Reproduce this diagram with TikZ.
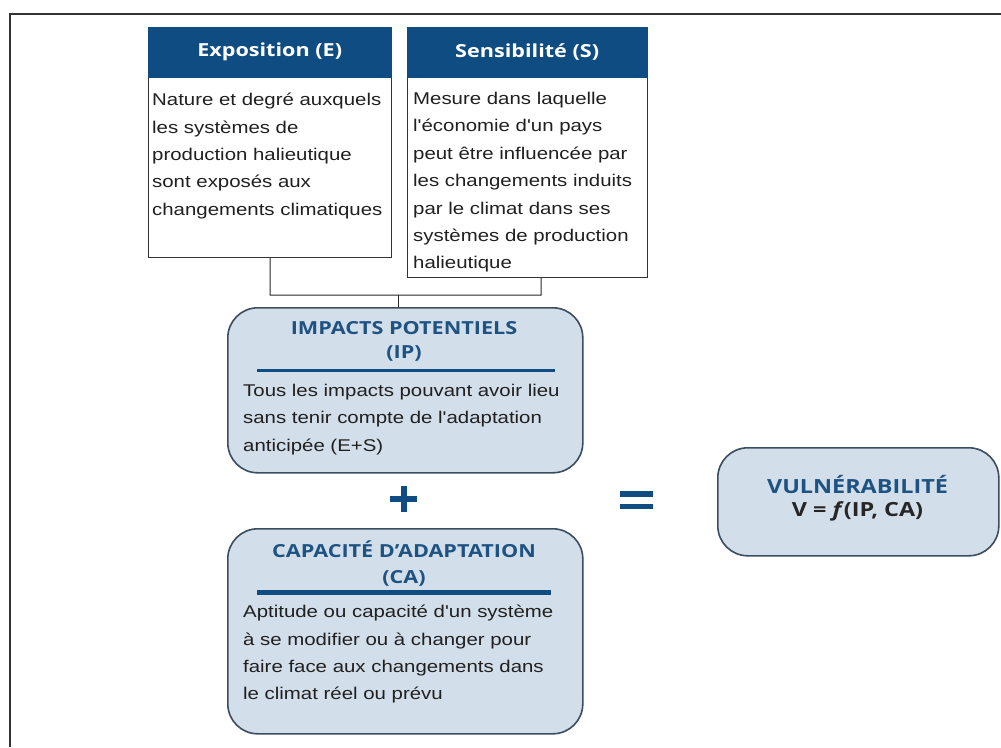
\documentclass[tikz,border=0pt]{standalone}
\usepackage{fontspec}
\setmainfont{Liberation Sans}[FakeStretch=1.2, Ligatures=TeXOff]
\newfontfamily\titlefont{Open Sans}[FakeStretch=1.2]
\definecolor{hdrblue}{HTML}{0F4C81}
\definecolor{ttlblue}{HTML}{1E5282}
\definecolor{boxfill}{HTML}{D2DEE9}
\definecolor{boxedge}{HTML}{3B4D60}
\definecolor{txtgray}{HTML}{202020}
\begin{document}
\begin{tikzpicture}[x=1pt,y=-1pt,
  hdr/.style={draw=hdrblue, fill=hdrblue, text=white, inner sep=0, anchor=north west,
    font={\titlefont\bfseries\fontsize{18}{20}\selectfont}},
  bodybox/.style={draw=black!80, line width=1.2pt, fill=white, inner sep=0, anchor=north west},
  bodytxt/.style={inner sep=0, anchor=north west, align=left, text=txtgray,
    font={\fontsize{17}{27.4}\selectfont}},
  roundbox/.style={draw=boxedge, line width=1.6pt, fill=boxfill, rounded corners=30pt, inner sep=0, anchor=north west},
  ttl/.style={inner sep=0, align=center, text=ttlblue,
    font={\titlefont\bfseries\fontsize{18}{24}\selectfont}},
  conn/.style={draw=black!85, line width=1pt},
  rulebar/.style={draw=hdrblue}
]
\useasboundingbox (0,0) rectangle (1001,747);
% frame
\draw[line width=1.6pt, draw=black!80] (1001,14) -- (10,14) -- (10,747);

% Exposition
\node[bodybox, minimum width=243pt, minimum height=180pt] (expob) at (148,77) {};
\node[hdr, minimum width=243pt, minimum height=50pt] (expoh) at (148,27) {Exposition (E)};
\node[bodytxt] (expot) at (152,93) {Nature et degré auxquels\\les systèmes de\\production halieutique\\sont exposés aux\\changements climatiques};

% Sensibilite
\node[bodybox, minimum width=240pt, minimum height=200pt] (sensb) at (407,77) {};
\node[hdr, minimum width=240pt, minimum height=50pt] (sensh) at (407,27) {Sensibilité (S)};
\node[bodytxt] (senst) at (413,92) {Mesure dans laquelle\\l'économie d'un pays\\peut être influencée par\\les changements induits\\par le climat dans ses\\systèmes de production\\halieutique};

% IP box
\node[roundbox, minimum width=355pt, minimum height=165pt] (ip) at (227,307) {};
\node[ttl] (ipt) at (404,341.5) {IMPACTS POTENTIELS\\(IP)};
\draw[rulebar, line width=3pt] (257,370) -- (555,370);
\node[bodytxt] (ipx) at (243,384) {Tous les impacts pouvant avoir lieu\\sans tenir compte de l'adaptation\\anticipée (E+S)};

% connectors
\coordinate (ea) at (270,295);
\coordinate (sa) at (541,295);
\coordinate (jn) at (398,295);
\draw[conn] (expob.south) -- (ea) -- (sa) -- (sa |- sensb.south);
\draw[conn] (jn) -- (jn |- ip.north);

% plus
\draw[hdrblue, line width=6pt] (390,499) -- (417,499);
\draw[hdrblue, line width=6pt] (403.5,486) -- (403.5,512);

% CA box
\node[roundbox, minimum width=355pt, minimum height=205pt] (ca) at (227,528) {};
\node[ttl, font={\titlefont\bfseries\fontsize{18}{26}\selectfont}] (cat) at (404,563.5) {CAPACITÉ D’ADAPTATION\\(CA)};
\draw[rulebar, line width=5pt] (257,592) -- (551,592);
\node[bodytxt] (cax) at (243,605) {Aptitude ou capacité d'un système\\à se modifier ou à changer pour\\faire face aux changements dans\\le climat réel ou prévu};

% equals
\draw[hdrblue, line width=5.5pt] (620,494) -- (653,494);
\draw[hdrblue, line width=5.5pt] (620,506.5) -- (653,506.5);

% V box
\node[roundbox, minimum width=281pt, minimum height=108pt] (vb) at (717,447) {};
\node[ttl, font={\titlefont\bfseries\fontsize{19.5}{23}\selectfont}] (vt) at (857.5,498.5) {VULNÉRABILITÉ\\{\color{black!85}V = \textit{f}(IP, CA)}};
\end{tikzpicture}
\end{document}
